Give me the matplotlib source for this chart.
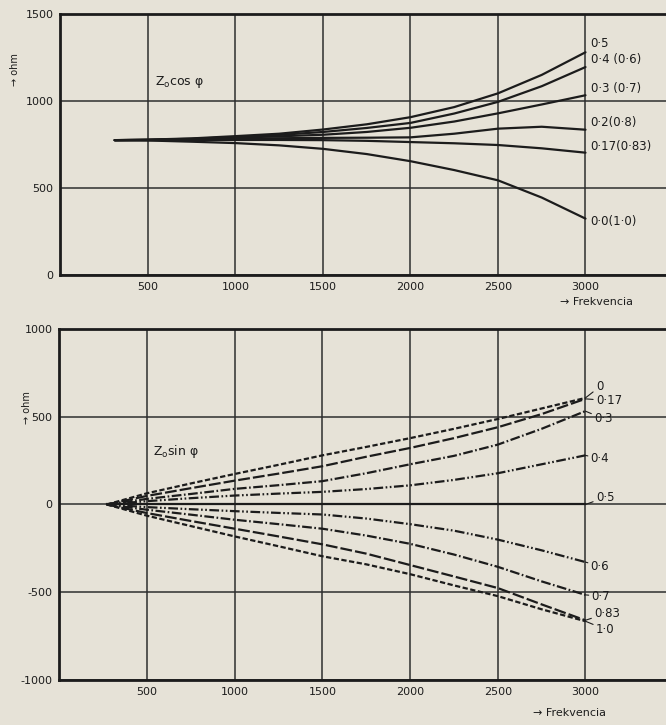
import matplotlib
matplotlib.use("Agg")
import matplotlib.pyplot as plt

plt.rcParams['font.family'] = ['DejaVu Sans']
plt.rcParams['lines.scale_dashes'] = False
plt.rcParams['axes.unicode_minus'] = False

# --- top chart: Z0 cos(phi), ohm vs frequency ---
freq_cos = [310, 500, 750, 1000, 1250, 1500, 1750, 2000, 2250, 2500, 2750, 3000]
cos_05 = [775, 778, 785, 798, 812, 836, 866, 907, 965, 1044, 1150, 1280]
cos_04 = [775, 777, 783, 793, 805, 822, 845, 874, 928, 995, 1085, 1195]
cos_03 = [775, 776, 781, 789, 797, 806, 822, 846, 882, 929, 980, 1033]
cos_02 = [775, 776, 779, 783, 786, 788, 789, 791, 812, 841, 852, 835]
cos_017 = [775, 775, 775, 776, 776, 775, 771, 764, 757, 747, 728, 703]
cos_00 = [775, 773, 766, 758, 745, 725, 695, 654, 603, 544, 445, 324]
cos_labels = ['0·5', '0·4 (0·6)', '0·3 (0·7)', '0·2(0·8)', '0·17(0·83)', '0·0(1·0)']
cos_label_y = [1333, 1236, 1069, 879, 741, 310]

# --- bottom chart: Z0 sin(phi) ---
freq_sin = [270, 500, 750, 1000, 1250, 1500, 1750, 2000, 2250, 2500, 2750, 3000]
sin_0 = [0, 64, 120, 174, 226, 280, 328, 378, 431, 487, 547, 607]
sin_017 = [0, 49, 93, 136, 176, 218, 272, 322, 378, 440, 515, 602]
sin_03 = [0, 32, 60, 89, 110, 133, 178, 229, 277, 341, 431, 532]
sin_04 = [0, 19, 36, 51, 62, 72, 88, 109, 140, 178, 229, 280]
sin_05 = [0, 0, 0, 0, 0, 0, 0, 0, 0, 0, 0, 0]
sin_06 = [0, -15, -27, -38, -48, -57, -80, -112, -149, -200, -261, -328]
sin_07 = [0, -30, -58, -87, -112, -138, -177, -224, -285, -355, -438, -515]
sin_083 = [0, -49, -94, -138, -182, -227, -280, -345, -410, -476, -569, -660]
sin_10 = [0, -64, -123, -182, -238, -295, -341, -397, -461, -522, -597, -665]
sin_labels = ['0', '0·17', '0·3', '0·4', '0·5', '0·6', '0·7', '0·83', '1·0']
sin_label_pos = [(3060, 670), (3060, 592), (3050, 489), (3030, 261), (3060, 40),
                 (3030, -352), (3035, -523), (3050, -619), (3060, -712)]

paper = '#e6e2d7'
ink = '#1c1c1c'

short_dash = (0, (3.8, 1.8))
long_dash = (0, (8.5, 2.2))
dash_dot = (0, (7, 1.8, 1.2, 1.8))
dash_dot_dot = (0, (7, 1.8, 1.2, 1.8, 1.2, 1.8))

fig = plt.figure(figsize=(6.66, 7.25), dpi=100)
fig.patch.set_facecolor(paper)

ax1 = fig.add_axes([0.0908, 0.6207, 0.9092, 0.36])
ax2 = fig.add_axes([0.0892, 0.0621, 0.9108, 0.4841])

for ax in (ax1, ax2):
    ax.set_facecolor(paper)
    ax.set_xlim(0, 3460)
    ax.set_xticks([500, 1000, 1500, 2000, 2500, 3000])
    ax.grid(True, color='#2e2e2e', lw=1.1)
    ax.set_axisbelow(True)
    ax.tick_params(length=0, labelsize=8, colors=ink, pad=5)
    for s in ('left', 'bottom', 'top'):
        ax.spines[s].set_linewidth(2)
        ax.spines[s].set_color(ink)
    ax.spines['right'].set_visible(False)

ax1.set_ylim(0, 1500)
ax1.set_yticks([0, 500, 1000, 1500])
ax2.set_ylim(-1000, 1000)
ax2.set_yticks([-1000, -500, 0, 500, 1000])

for ys in (cos_05, cos_04, cos_03, cos_02, cos_017, cos_00):
    ax1.plot(freq_cos, ys, color=ink, lw=1.6, solid_capstyle='round')
for lab, y in zip(cos_labels, cos_label_y):
    ax1.text(3030, y, lab, fontsize=8.5, color=ink, va='center', ha='left')
ax1.text(540, 1110, r'Z$_{\rm o}$cos φ', fontsize=9, color=ink, va='center')

sin_series = [sin_0, sin_017, sin_03, sin_04, sin_05, sin_06, sin_07, sin_083, sin_10]
sin_styles = [short_dash, long_dash, dash_dot, dash_dot_dot, '-',
              dash_dot_dot, dash_dot, long_dash, short_dash]
for ys, st in zip(sin_series, sin_styles):
    ax2.plot(freq_sin, ys, color=ink, lw=1.6, linestyle=st)
for lab, ys, pos in zip(sin_labels, sin_series, sin_label_pos):
    ax2.annotate(lab, xy=(3000, ys[-1]), xytext=pos, fontsize=8.5, color=ink,
                 va='center', ha='left',
                 arrowprops=dict(arrowstyle='-', lw=0.8, color=ink,
                                 shrinkA=0, shrinkB=0))
ax2.text(534, 300, r'Z$_{\rm o}$sin φ', fontsize=9, color=ink, va='center')

fig.text(15 / 666, 1 - 70 / 725, '→ ohm', rotation=90, fontsize=7,
         color=ink, ha='center', va='center')
fig.text(27 / 666, 1 - 408 / 725, '→ ohm', rotation=90, fontsize=7,
         color=ink, ha='center', va='center')
fig.text(560 / 666, 1 - 302 / 725, '→ Frekvencia', fontsize=8, color=ink,
         ha='left', va='center')
fig.text(533 / 666, 1 - 713 / 725, '→ Frekvencia', fontsize=8, color=ink,
         ha='left', va='center')

fig.savefig('out.png', dpi=100, facecolor=paper)
